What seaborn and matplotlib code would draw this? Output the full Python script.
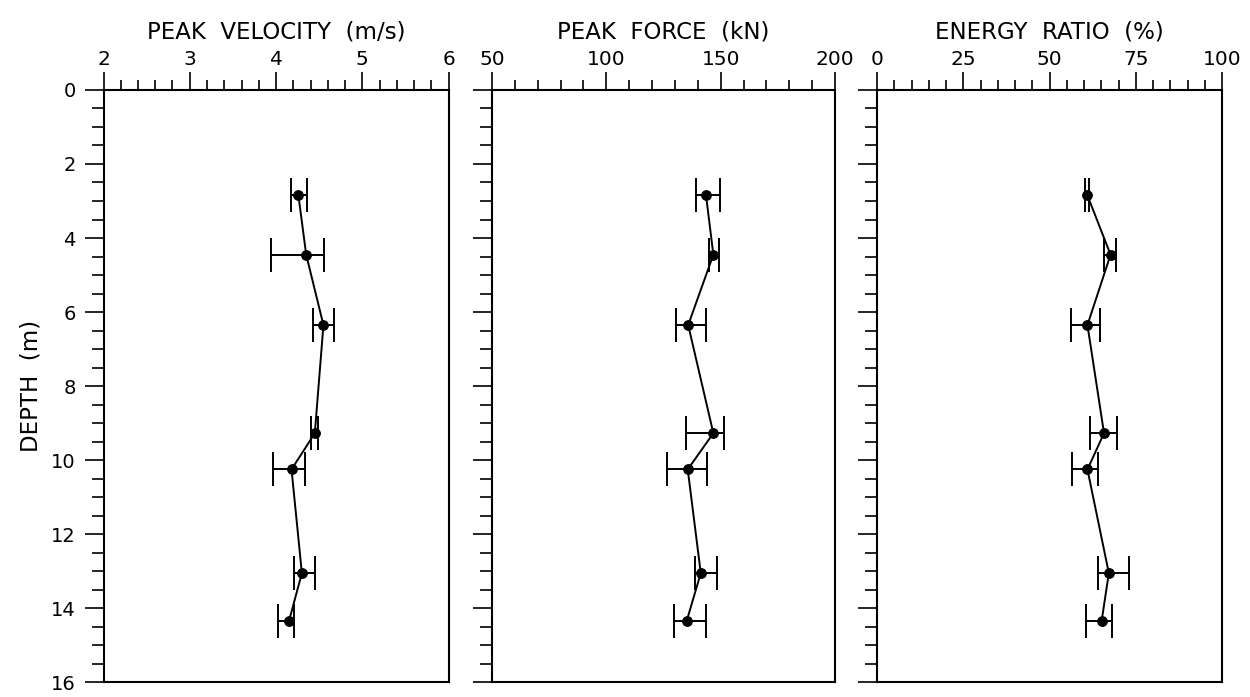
import matplotlib
matplotlib.use("Agg")
import matplotlib.pyplot as plt
import seaborn as sns
import numpy as np
import pandas as pd
from matplotlib.ticker import MultipleLocator

# ---- data ----
depth = [2.85, 4.45, 6.35, 9.27, 10.25, 13.05, 14.35]

velocity = [4.26, 4.35, 4.55, 4.45, 4.18, 4.30, 4.15]
velocity_lo = [4.17, 3.94, 4.43, 4.40, 3.96, 4.21, 4.02]
velocity_hi = [4.36, 4.56, 4.67, 4.49, 4.34, 4.45, 4.21]

force = [143.6, 146.8, 135.8, 146.8, 135.6, 141.3, 135.1]
force_lo = [139.1, 144.9, 130.3, 134.7, 126.4, 138.8, 129.7]
force_hi = [149.7, 149.4, 143.5, 151.5, 143.9, 148.3, 143.6]

energy = [61.0, 67.7, 61.0, 65.8, 61.0, 67.2, 65.1]
energy_lo = [60.3, 65.8, 56.1, 61.7, 56.4, 64.0, 60.5]
energy_hi = [61.4, 69.3, 64.6, 69.7, 64.0, 72.9, 68.0]

titles = ["PEAK  VELOCITY  (m/s)", "PEAK  FORCE  (kN)", "ENERGY  RATIO  (%)"]
x_limits = [(2, 6), (50, 200), (0, 100)]
x_major = [[2, 3, 4, 5, 6], [50, 100, 150, 200], [0, 25, 50, 75, 100]]
x_minor = [0.2, 10, 5]
depth_ticks = [0, 2, 4, 6, 8, 10, 12, 14, 16]
y_label = "DEPTH  (m)"

series = [
    (velocity, velocity_lo, velocity_hi),
    (force, force_lo, force_hi),
    (energy, energy_lo, energy_hi),
]

sns.set_style("ticks")
plt.rcParams["font.family"] = ["DejaVu Sans"]
plt.rcParams["axes.linewidth"] = 1.5
plt.rcParams["text.color"] = "black"
plt.rcParams["axes.labelcolor"] = "black"
plt.rcParams["xtick.color"] = "black"
plt.rcParams["ytick.color"] = "black"

fig = plt.figure(figsize=(12.5, 6.97), dpi=100)
positions = [
    (0.0828, 0.021, 0.2760, 0.850),
    (0.3936, 0.021, 0.2744, 0.850),
    (0.7016, 0.021, 0.2760, 0.850),
]

for i, (pos, (vals, lo, hi)) in enumerate(zip(positions, series)):
    ax = fig.add_axes(pos)
    vals_a = np.asarray(vals)
    xerr = [vals_a - np.asarray(lo), np.asarray(hi) - vals_a]
    ax.errorbar(vals, depth, xerr=xerr, fmt="none", ecolor="black",
                elinewidth=1.4, capsize=12.5, capthick=1.4, zorder=2)
    df = pd.DataFrame({"x": vals, "depth": depth})
    sns.lineplot(data=df, x="x", y="depth", orient="y", sort=False,
                 estimator=None, color="black", lw=1.4, marker="o",
                 markersize=7, markeredgecolor="black", ax=ax, zorder=3)
    ax.set_xlim(*x_limits[i])
    ax.set_ylim(16, 0)
    ax.xaxis.tick_top()
    ax.xaxis.set_label_position("top")
    ax.set_xticks(x_major[i])
    ax.xaxis.set_minor_locator(MultipleLocator(x_minor[i]))
    ax.set_yticks(depth_ticks)
    ax.yaxis.set_minor_locator(MultipleLocator(0.5))
    ax.tick_params(axis="x", which="major", direction="out", length=13,
                   width=1.2, labelsize=14.5, pad=2, top=True, bottom=False)
    ax.tick_params(axis="x", which="minor", direction="out", length=7,
                   width=1.2, top=True, bottom=False)
    ax.tick_params(axis="y", which="major", direction="out", length=14,
                   width=1.2, labelsize=14, pad=6, left=True, right=False)
    ax.tick_params(axis="y", which="minor", direction="out", length=9,
                   width=1.2, left=True, right=False)
    ax.set_xlabel(titles[i], fontsize=16.5, labelpad=8)
    if i == 0:
        ax.set_ylabel(y_label, fontsize=16.5, labelpad=6)
    else:
        ax.set_ylabel("")
        ax.tick_params(axis="y", labelleft=False)
    for s in ax.spines.values():
        s.set_visible(True)
        s.set_color("black")
        s.set_linewidth(1.5)

fig.savefig("out.png", dpi=100, facecolor="white")
